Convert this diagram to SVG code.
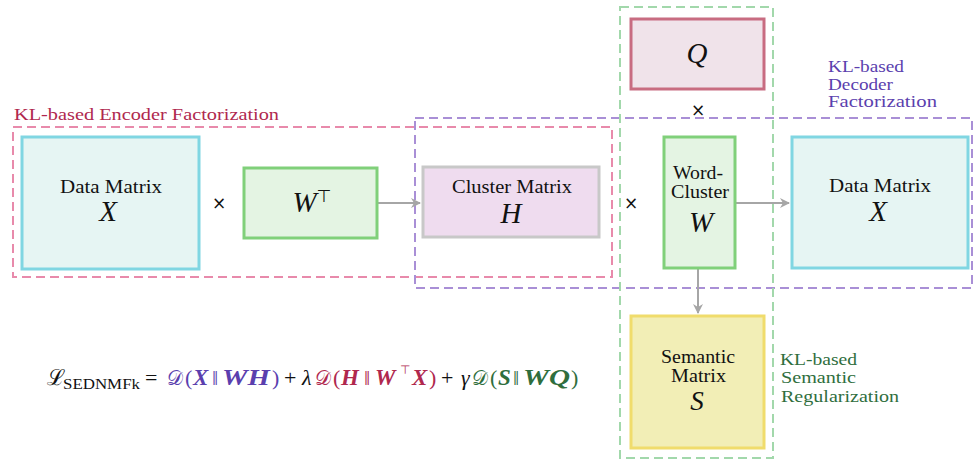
<svg xmlns="http://www.w3.org/2000/svg" width="975" height="460" viewBox="0 0 975 460" font-family="'Liberation Serif', 'Times New Roman', serif">
<defs>
<marker id="ah" viewBox="0 0 10 10" refX="9" refY="5" markerWidth="5" markerHeight="5" orient="auto" markerUnits="strokeWidth">
<path d="M0,0 L10,5 L0,10 L3,5 z" fill="#a6a6a6"/>
</marker>
<style>
text{fill:#111}
.lbl{font-size:18px}
.var{font-size:29px;font-style:italic;text-anchor:middle}
.times{font-family:"DejaVu Sans",sans-serif;font-size:17px;text-anchor:middle}
.dash{fill:none;stroke-width:2;stroke-dasharray:9,5}
.edge{fill:none;stroke:#a6a6a6;stroke-width:2;marker-end:url(#ah)}
.grp{font-size:16px}
.enc{fill:#b0284e}
.dec{fill:#5b3fae}
.sem{fill:#2f6e3d}
.f{font-size:22px}
.d{font-size:20px}
.bi{font-size:23px;font-weight:bold;font-style:italic}
</style>
</defs>
<rect width="975" height="460" fill="#fff"/>

<g id="regions">
<rect class="dash" x="13" y="127" width="599" height="150" stroke="#e88aab"/>
<rect class="dash" x="415" y="118" width="557" height="170" stroke="#a98fd6"/>
<rect class="dash" x="620" y="7" width="153" height="451" stroke="#a2d8ab"/>
<text class="grp enc" x="14" y="120" style="font-size:17px" textLength="265" lengthAdjust="spacingAndGlyphs">KL-based Encoder Factorization</text>
<text class="grp dec" x="828" y="72" textLength="76" lengthAdjust="spacingAndGlyphs">KL-based</text>
<text class="grp dec" x="828" y="90" textLength="65" lengthAdjust="spacingAndGlyphs">Decoder</text>
<text class="grp dec" x="828" y="107" textLength="109" lengthAdjust="spacingAndGlyphs">Factorization</text>
<text class="grp sem" x="780" y="365" textLength="77" lengthAdjust="spacingAndGlyphs">KL-based</text>
<text class="grp sem" x="781" y="383" textLength="75" lengthAdjust="spacingAndGlyphs">Semantic</text>
<text class="grp sem" x="781" y="402" textLength="118" lengthAdjust="spacingAndGlyphs">Regularization</text>
</g>

<g id="connectors">
<line class="edge" x1="378" y1="203" x2="420" y2="203"/>
<line class="edge" x1="736" y1="203" x2="789" y2="203"/>
<line class="edge" x1="698" y1="269" x2="698" y2="313"/>
</g>

<g id="dataX">
<rect x="22" y="137" width="177" height="132" fill="#e6f5f3" stroke="#80d6e2" stroke-width="3"/>
<text class="lbl" x="60" y="193" textLength="102" lengthAdjust="spacingAndGlyphs">Data Matrix</text>
<text class="var" x="108" y="221">X</text>
</g>
<text class="times" x="219" y="209">×</text>

<g id="WT">
<rect x="244" y="168" width="133" height="70" fill="#e4f4e3" stroke="#80d07a" stroke-width="3"/>
<text class="var" x="312" y="212">W<tspan font-style="normal" font-family="DejaVu Sans, sans-serif" font-size="17" dy="-10">⊤</tspan></text>
</g>

<g id="clusterH">
<rect x="423" y="167" width="176" height="70" fill="#efdcef" stroke="#c8c8c8" stroke-width="3"/>
<text class="lbl" x="452" y="193" textLength="120" lengthAdjust="spacingAndGlyphs">Cluster Matrix</text>
<text class="var" x="511" y="223">H</text>
</g>
<text class="times" x="631" y="209">×</text>

<g id="Q">
<rect x="631" y="19" width="133" height="70" fill="#f0e3ea" stroke="#c86c81" stroke-width="3"/>
<text class="var" x="697" y="63">Q</text>
</g>
<text class="times" x="698" y="116">×</text>

<g id="W">
<rect x="664" y="137" width="71" height="131" fill="#e4f4e3" stroke="#80d07a" stroke-width="3"/>
<text class="lbl" x="673" y="179" textLength="50" lengthAdjust="spacingAndGlyphs">Word-</text>
<text class="lbl" x="671" y="198" textLength="58" lengthAdjust="spacingAndGlyphs">Cluster</text>
<text class="var" x="701" y="232">W</text>
</g>

<g id="dataX2">
<rect x="792" y="137" width="176" height="131" fill="#e6f5f3" stroke="#80d6e2" stroke-width="3"/>
<text class="lbl" x="829" y="192" textLength="102" lengthAdjust="spacingAndGlyphs">Data Matrix</text>
<text class="var" x="878" y="221">X</text>
</g>

<g id="S">
<rect x="631" y="316" width="133" height="132" fill="#f2eeb6" stroke="#f0dc6c" stroke-width="3"/>
<text class="lbl" x="661" y="363" textLength="74" lengthAdjust="spacingAndGlyphs">Semantic</text>
<text class="lbl" x="671" y="382" textLength="55" lengthAdjust="spacingAndGlyphs">Matrix</text>
<text class="var" x="697" y="410" style="font-size:27px">S</text>
</g>

<g id="formula">
<text class="f" x="47" y="385">ℒ</text>
<text x="63" y="389" style="font-size:15px" textLength="77" lengthAdjust="spacingAndGlyphs">SEDNMFk</text>
<text class="f" x="145" y="385">=</text>
<text class="d dec" x="167" y="385">𝒟</text>
<text class="f dec" x="185" y="385">(</text>
<text class="bi dec" x="193" y="385">X</text>
<text class="f dec" x="212" y="385">‖</text>
<text class="bi dec" x="222" y="385" textLength="48" lengthAdjust="spacingAndGlyphs">WH</text>
<text class="f dec" x="272" y="385">)</text>
<text class="f" x="284" y="385">+</text>
<text class="f" x="302" y="385" font-style="italic">λ</text>
<text class="d enc" x="315" y="385">𝒟</text>
<text class="f enc" x="333" y="385">(</text>
<text class="bi enc" x="341" y="385">H</text>
<text class="f enc" x="364" y="385">‖</text>
<text class="bi enc" x="375" y="385">W</text>
<text class="enc" x="400" y="374" style="font-size:12px;font-family:'DejaVu Sans',sans-serif">⊤</text>
<text class="bi enc" x="412" y="385">X</text>
<text class="f enc" x="429" y="385">)</text>
<text class="f" x="441" y="385">+</text>
<text class="f" x="461" y="385" font-style="italic">γ</text>
<text class="d sem" x="472" y="385">𝒟</text>
<text class="f sem" x="490" y="385">(</text>
<text class="bi sem" x="498" y="385">S</text>
<text class="f sem" x="513" y="385">‖</text>
<text class="bi sem" x="523" y="385" textLength="47" lengthAdjust="spacingAndGlyphs">WQ</text>
<text class="f sem" x="571" y="385">)</text>
</g>
</svg>
